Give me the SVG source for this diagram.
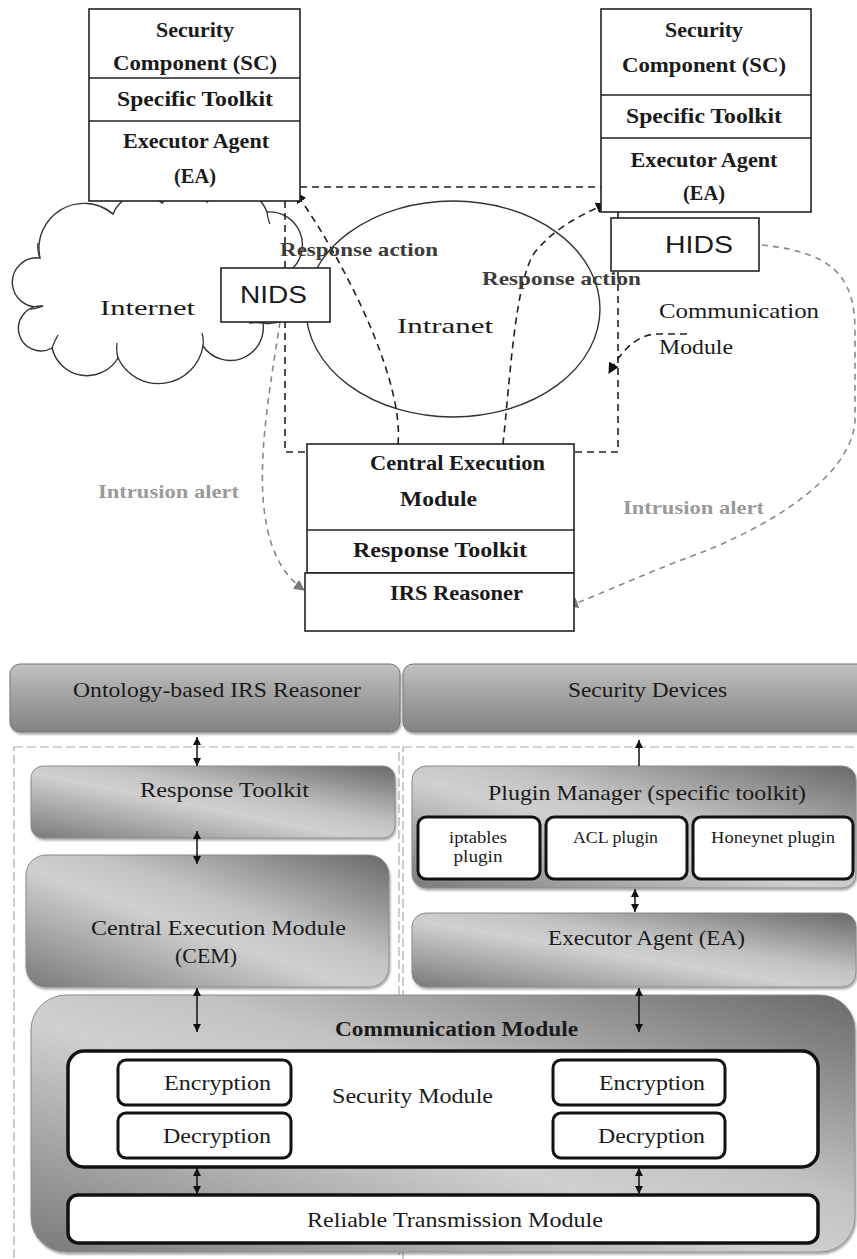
<svg xmlns="http://www.w3.org/2000/svg" width="857" height="1259" viewBox="0 0 857 1259">
<defs>
<style>
.box{fill:#fff;stroke:#222;stroke-width:1.6}
.ln{stroke:#222;stroke-width:1.6}
.bt{font-family:"Liberation Serif","Times New Roman",serif;font-weight:bold;font-size:20px;fill:#1a1a1a}
.rt{font-family:"Liberation Serif","Times New Roman",serif;font-size:21px;fill:#1a1a1a}
.pt{font-family:"Liberation Serif","Times New Roman",serif;font-size:16px;fill:#1a1a1a}
.st{font-family:"Liberation Sans",Arial,sans-serif;font-size:24px;fill:#1a1a1a}
.ra{font-family:"Liberation Serif","Times New Roman",serif;font-weight:bold;font-size:19px;fill:#3c3c3c}
.ia{font-family:"Liberation Serif","Times New Roman",serif;font-weight:bold;font-size:19px;fill:#9a9a9a}
.dash{fill:none;stroke:#222;stroke-width:1.6;stroke-dasharray:7,5}
.gdash{fill:none;stroke:#888;stroke-width:1.6;stroke-dasharray:6,5}
.cont{fill:none;stroke:#aaa;stroke-width:1.2;stroke-dasharray:9,4}
.gb{fill:url(#gd);stroke:#8a8a8a;stroke-width:1;filter:url(#sh)}
.vb{fill:url(#gv);stroke:#777;stroke-width:1;filter:url(#sh)}
.wb{fill:#fff;stroke:#111;stroke-width:3.5}
.wb2{fill:#fff;stroke:#111;stroke-width:3}
.arr{stroke:#111;stroke-width:1.5;fill:none;marker-start:url(#sa);marker-end:url(#sa)}
.tick{fill:none;stroke:#333;stroke-width:1.3}
</style>
<linearGradient id="gd" x1="0" y1="1" x2="1" y2="0">
<stop offset="0" stop-color="#7a7a7a"/>
<stop offset="0.45" stop-color="#d0d0d0"/>
<stop offset="0.6" stop-color="#c2c2c2"/>
<stop offset="1" stop-color="#686868"/>
</linearGradient>
<linearGradient id="gv" x1="0" y1="0" x2="0" y2="1">
<stop offset="0" stop-color="#c2c2c2"/>
<stop offset="0.35" stop-color="#a9a9a9"/>
<stop offset="1" stop-color="#838383"/>
</linearGradient>
<filter id="sh" x="-5%" y="-10%" width="110%" height="125%">
<feDropShadow dx="1" dy="2" stdDeviation="1.2" flood-color="#000" flood-opacity="0.35"/>
</filter>
<marker id="ah" viewBox="0 0 10 10" refX="9" refY="5" markerWidth="11" markerHeight="11" markerUnits="userSpaceOnUse" orient="auto"><path d="M0,0 L10,5 L0,10 z" fill="#111"/></marker>
<marker id="ahg" viewBox="0 0 10 10" refX="9" refY="5" markerWidth="11" markerHeight="11" markerUnits="userSpaceOnUse" orient="auto"><path d="M0,0 L10,5 L0,10 z" fill="#777"/></marker>
<marker id="sa" viewBox="0 0 8 8" refX="8" refY="4" markerWidth="8" markerHeight="8" markerUnits="userSpaceOnUse" orient="auto-start-reverse"><path d="M0,0 L8,4 L0,8 z" fill="#111"/></marker>
</defs>

<g id="cloud">
<path d="M40,258 A45 45 0 0 1 113,214 A30 30 0 0 1 162,203 A28 28 0 0 1 207,202 A35 35 0 0 1 267,212 A33 33 0 0 1 293,268 A33 33 0 0 1 263,323 A33 33 0 0 1 203,346 A45 45 0 0 1 118,358 A36 36 0 0 1 52,348 A22.5 22.5 0 1 1 43,306 A24.5 24.5 0 1 1 40,258 Z" fill="#fff" stroke="#333" stroke-width="1.4"/>
<path class="tick" d="M40,258 Q37,250 38,243 M113,214 Q108,210 104,208 M43,306 Q36,309 30,309 M52,348 Q55,340 58,335 M118,358 Q116,350 117,343 M203,346 Q204,340 202,333 M263,323 Q255,322 249,323 M267,212 Q268,220 270,224"/>
<text class="rt" x="100" y="315" font-size="22" textLength="95" lengthAdjust="spacingAndGlyphs">Internet</text>
</g>

<g id="intranet">
<ellipse cx="453" cy="309" rx="147" ry="108" fill="none" stroke="#333" stroke-width="1.4"/>
<text class="rt" x="397" y="333" font-size="22" textLength="96" lengthAdjust="spacingAndGlyphs">Intranet</text>
</g>

<g id="connectors-top">
<path class="dash" d="M300,187 H601"/>
<path class="dash" d="M285,201 V452 H307"/>
<path class="dash" d="M618,212 V452 H574"/>
<path class="dash" d="M398,444 C404,380 345,262 296,193" marker-end="url(#ah)"/>
<path class="dash" d="M503,444 C510,380 515,280 535,252 C555,228 580,215 606,204" marker-end="url(#ah)"/>
<path class="dash" d="M687,334 L655,334 C636,336 622,350 609,373" marker-end="url(#ah)"/>
<path class="gdash" d="M280,322 C265,420 240,545 304,590" marker-end="url(#ahg)"/>
<path class="gdash" d="M762,245 C825,252 855,270 855,330 L855,420 C852,480 760,530 700,553 C640,575 600,595 568,606" marker-end="url(#ahg)"/>
<text class="ra" x="280" y="256" textLength="158" lengthAdjust="spacingAndGlyphs">Response action</text>
<text class="ra" x="482" y="285" textLength="159" lengthAdjust="spacingAndGlyphs">Response action</text>
<text class="ia" x="98" y="498" textLength="141" lengthAdjust="spacingAndGlyphs">Intrusion alert</text>
<text class="ia" x="623" y="514" textLength="141" lengthAdjust="spacingAndGlyphs">Intrusion alert</text>
<text class="rt" x="659" y="318" font-size="19" textLength="160" lengthAdjust="spacingAndGlyphs">Communication</text>
<text class="rt" x="659" y="354" font-size="19" textLength="74" lengthAdjust="spacingAndGlyphs">Module</text>
</g>

<g id="sc-left">
<rect class="box" x="89" y="9" width="211" height="192"/>
<line class="ln" x1="89" y1="78" x2="300" y2="78"/>
<line class="ln" x1="89" y1="121" x2="300" y2="121"/>
<text class="bt" x="195" y="37" text-anchor="middle" textLength="78" lengthAdjust="spacingAndGlyphs">Security</text>
<text class="bt" x="195" y="70" text-anchor="middle" textLength="164" lengthAdjust="spacingAndGlyphs">Component (SC)</text>
<text class="bt" x="195" y="106" text-anchor="middle" textLength="156" lengthAdjust="spacingAndGlyphs">Specific Toolkit</text>
<text class="bt" x="196" y="148" text-anchor="middle" textLength="146" lengthAdjust="spacingAndGlyphs">Executor Agent</text>
<text class="bt" x="195" y="183" text-anchor="middle" textLength="42" lengthAdjust="spacingAndGlyphs">(EA)</text>
</g>

<g id="sc-right">
<rect class="box" x="601" y="9" width="210" height="203"/>
<line class="ln" x1="601" y1="95" x2="811" y2="95"/>
<line class="ln" x1="601" y1="138" x2="811" y2="138"/>
<text class="bt" x="704" y="37" text-anchor="middle" textLength="78" lengthAdjust="spacingAndGlyphs">Security</text>
<text class="bt" x="704" y="72" text-anchor="middle" textLength="164" lengthAdjust="spacingAndGlyphs">Component (SC)</text>
<text class="bt" x="704" y="123" text-anchor="middle" textLength="156" lengthAdjust="spacingAndGlyphs">Specific Toolkit</text>
<text class="bt" x="704" y="167" text-anchor="middle" textLength="147" lengthAdjust="spacingAndGlyphs">Executor Agent</text>
<text class="bt" x="704" y="200" text-anchor="middle" textLength="42" lengthAdjust="spacingAndGlyphs">(EA)</text>
</g>

<g id="nids">
<rect class="box" x="221" y="268" width="109" height="54"/>
<text class="st" x="273.5" y="303" text-anchor="middle" textLength="67" lengthAdjust="spacingAndGlyphs">NIDS</text>
</g>

<g id="hids">
<rect class="box" x="611" y="218" width="148" height="53"/>
<text class="st" x="699" y="253" text-anchor="middle" textLength="68" lengthAdjust="spacingAndGlyphs">HIDS</text>
</g>

<g id="cem-top">
<rect class="box" x="307" y="444" width="267" height="129"/>
<line class="ln" x1="307" y1="530" x2="574" y2="530"/>
<text class="bt" x="370" y="470" textLength="175" lengthAdjust="spacingAndGlyphs">Central Execution</text>
<text class="bt" x="400" y="506" textLength="77" lengthAdjust="spacingAndGlyphs">Module</text>
<text class="bt" x="353" y="557" textLength="174" lengthAdjust="spacingAndGlyphs">Response Toolkit</text>
</g>

<g id="irs-top">
<rect class="box" x="305" y="573" width="269" height="58"/>
<text class="bt" x="390" y="600" textLength="133" lengthAdjust="spacingAndGlyphs">IRS Reasoner</text>
</g>

<g id="containers">
<rect class="cont" x="14" y="747" width="385" height="540"/>
<rect class="cont" x="403" y="747" width="470" height="540"/>
</g>

<g id="ontology">
<rect class="vb" x="10" y="664" width="390" height="68" rx="10"/>
<text class="rt" x="73" y="697" textLength="288" lengthAdjust="spacingAndGlyphs">Ontology-based IRS Reasoner</text>
</g>

<g id="security-devices">
<rect class="vb" x="403" y="664" width="470" height="68" rx="10"/>
<text class="rt" x="568" y="697" textLength="159" lengthAdjust="spacingAndGlyphs">Security Devices</text>
</g>

<g id="response-toolkit">
<rect class="gb" x="31" y="766" width="364" height="72" rx="12"/>
<text class="rt" x="140" y="797" textLength="169" lengthAdjust="spacingAndGlyphs">Response Toolkit</text>
</g>

<g id="cem">
<rect class="gb" x="26" y="855" width="363" height="132" rx="20"/>
<text class="rt" x="91" y="935" font-size="22" textLength="255" lengthAdjust="spacingAndGlyphs">Central Execution Module</text>
<text class="rt" x="175" y="963" font-size="22" textLength="62" lengthAdjust="spacingAndGlyphs">(CEM)</text>
</g>

<g id="plugin-manager">
<rect class="gb" x="412" y="766" width="444" height="122" rx="14"/>
<text class="rt" x="488" y="800" textLength="318" lengthAdjust="spacingAndGlyphs">Plugin Manager (specific toolkit)</text>
</g>
<g id="iptables">
<rect class="wb2" x="418" y="817" width="122" height="62" rx="8"/>
<text class="pt" x="478" y="843" text-anchor="middle" textLength="58" lengthAdjust="spacingAndGlyphs">iptables</text>
<text class="pt" x="478" y="862" text-anchor="middle" textLength="49" lengthAdjust="spacingAndGlyphs">plugin</text>
</g>
<g id="acl">
<rect class="wb2" x="546" y="817" width="141" height="62" rx="8"/>
<text class="pt" x="573" y="843" textLength="85" lengthAdjust="spacingAndGlyphs">ACL plugin</text>
</g>
<g id="honeynet">
<rect class="wb2" x="693" y="817" width="160" height="62" rx="8"/>
<text class="pt" x="711" y="843" textLength="124" lengthAdjust="spacingAndGlyphs">Honeynet plugin</text>
</g>

<g id="executor-agent">
<rect class="gb" x="412" y="913" width="444" height="74" rx="14"/>
<text class="rt" x="548" y="945" textLength="197" lengthAdjust="spacingAndGlyphs">Executor Agent (EA)</text>
</g>

<g id="communication-module">
<rect class="gb" x="31" y="995" width="824" height="257" rx="35"/>
<text class="bt" x="335" y="1036" textLength="243" lengthAdjust="spacingAndGlyphs">Communication Module</text>
</g>
<g id="security-module">
<rect class="wb" x="68" y="1051" width="750" height="116" rx="16"/>
<text class="rt" x="332" y="1103" textLength="161" lengthAdjust="spacingAndGlyphs">Security Module</text>
</g>
<g id="enc-left">
<rect class="wb2" x="118" y="1060" width="173" height="45" rx="8"/>
<text class="rt" x="164" y="1090" font-size="20" textLength="107" lengthAdjust="spacingAndGlyphs">Encryption</text>
</g>
<g id="dec-left">
<rect class="wb2" x="118" y="1113" width="173" height="45" rx="8"/>
<text class="rt" x="163" y="1143" font-size="20" textLength="108" lengthAdjust="spacingAndGlyphs">Decryption</text>
</g>
<g id="enc-right">
<rect class="wb2" x="553" y="1060" width="172" height="45" rx="8"/>
<text class="rt" x="599" y="1090" font-size="20" textLength="106" lengthAdjust="spacingAndGlyphs">Encryption</text>
</g>
<g id="dec-right">
<rect class="wb2" x="553" y="1113" width="172" height="45" rx="8"/>
<text class="rt" x="598" y="1143" font-size="20" textLength="107" lengthAdjust="spacingAndGlyphs">Decryption</text>
</g>
<g id="reliable-transmission">
<rect class="wb" x="68" y="1195" width="750" height="48" rx="10"/>
<text class="rt" x="307" y="1227" textLength="296" lengthAdjust="spacingAndGlyphs">Reliable Transmission Module</text>
</g>

<g id="connectors-bottom">
<line class="arr" x1="197" y1="737" x2="197" y2="766"/>
<line class="arr" x1="197" y1="831" x2="197" y2="864"/>
<line class="arr" x1="197" y1="988" x2="197" y2="1032"/>
<line class="arr" x1="197" y1="1168" x2="197" y2="1194"/>
<line class="arr" x1="639" y1="988" x2="639" y2="1032"/>
<line class="arr" x1="639" y1="1168" x2="639" y2="1194"/>
<line class="arr" x1="635" y1="889" x2="635" y2="912"/>
<line x1="639" y1="766" x2="639" y2="740" stroke="#111" stroke-width="1.5" marker-end="url(#sa)"/>
</g>
</svg>
